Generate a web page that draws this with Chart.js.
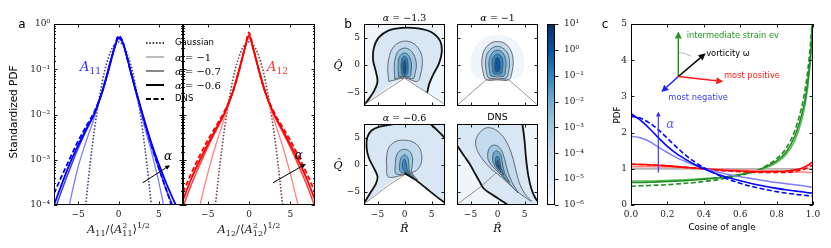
<!DOCTYPE html>
<html><head><meta charset="utf-8">
<script src="https://cdn.jsdelivr.net/npm/chart.js@4.4.0/dist/chart.umd.min.js"></script>
<style>
html,body{margin:0;padding:0;background:#fff;}
#wrap{position:relative;width:831px;height:248px;overflow:hidden;background:#fff;}
canvas{position:absolute;left:0;top:0;}
</style></head><body><div id="wrap">
<canvas id="cA1" width="831" height="248"></canvas>
<canvas id="cA2" width="831" height="248"></canvas>
<canvas id="cB1" width="831" height="248"></canvas>
<canvas id="cB2" width="831" height="248"></canvas>
<canvas id="cB3" width="831" height="248"></canvas>
<canvas id="cB4" width="831" height="248"></canvas>
<canvas id="cCB" width="831" height="248"></canvas>
<canvas id="cC" width="831" height="248"></canvas>
</div>
<script>
// ================= DATA =================
// Panel a: standardized PDFs (x in units of rms)
const aX = [-8,-7,-6,-5,-4,-3,-2,-1.5,-1,-0.5,0,0.5,1,1.5,2,3,4,5,6,7,8];
const aTicksX = [-5, 0, 5];
const aGauss   = [null,null,null,1.5e-6,1.3e-4,4.4e-3,5.4e-2,0.13,0.24,0.35,0.40,0.35,0.24,0.13,5.4e-2,4.4e-3,1.3e-4,1.5e-6,null,null,null];
const a11Light = [2e-6,1.5e-5,1.2e-4,7e-4,2.6e-3,8.5e-3,3.5e-2,7.5e-2,0.16,0.31,0.46,0.39,0.21,9.5e-2,4.0e-2,7.5e-3,1.7e-3,3.2e-4,4e-5,3e-6,null];
const a11Mid   = [7e-5,2.2e-4,6.5e-4,1.8e-3,4.4e-3,1.02e-2,3.3e-2,6.7e-2,0.145,0.30,0.49,0.40,0.20,9.0e-2,4.0e-2,9.5e-3,2.3e-3,6.5e-4,2.0e-4,7.5e-5,3e-5];
const a11Dark  = [1.0e-4,3.0e-4,8.5e-4,2.1e-3,4.8e-3,1.05e-2,3.2e-2,6.5e-2,0.14,0.29,0.50,0.40,0.20,9.0e-2,4.2e-2,1.0e-2,2.6e-3,8.0e-4,2.8e-4,1.1e-4,5e-5];
const a11DNS   = [1.8e-4,4.5e-4,1.1e-3,2.6e-3,5.5e-3,1.15e-2,3.3e-2,6.5e-2,0.14,0.30,0.55,0.42,0.20,9.0e-2,4.2e-2,9.5e-3,2.3e-3,6.5e-4,2.0e-4,6e-5,2e-5];
const a12Light = [3e-6,1.5e-5,9e-5,5e-4,2.2e-3,8e-3,3.2e-2,6.5e-2,0.135,0.29,0.50,0.29,0.135,6.5e-2,3.2e-2,8e-3,2.2e-3,5e-4,9e-5,1.5e-5,3e-6];
const a12Mid   = [9e-5,2.8e-4,7.5e-4,1.9e-3,4.4e-3,1.0e-2,3.0e-2,6.0e-2,0.13,0.29,0.55,0.29,0.13,6.0e-2,3.0e-2,1.0e-2,4.4e-3,1.9e-3,7.5e-4,2.8e-4,9e-5];
const a12Dark  = [1.3e-4,3.8e-4,9.5e-4,2.2e-3,4.8e-3,1.05e-2,3.0e-2,6.0e-2,0.13,0.29,0.57,0.29,0.13,6.0e-2,3.0e-2,1.05e-2,4.8e-3,2.2e-3,9.5e-4,3.8e-4,1.3e-4];
const a12DNS   = [1.9e-4,5e-4,1.2e-3,2.7e-3,5.5e-3,1.15e-2,3.0e-2,5.8e-2,0.13,0.30,0.65,0.30,0.13,5.8e-2,3.0e-2,1.15e-2,5.5e-3,2.7e-3,1.2e-3,5e-4,1.9e-4];
const aLegend = ['Gaussian', '\u03B1 = \u22121', '\u03B1 = \u22120.7', '\u03B1 = \u22120.6', 'DNS'];
const a1Arrow = [[3.0, 3.1e-4], [6.4, 7.6e-4]];
const a2Arrow = [[2.9, 3.1e-4], [6.9, 8.1e-4]];

// Panel b: joint PDF contours in (R^, Q^) plane
const bTicks = [-5, 0, 5];
const b1V  = [[-7.5,-7.3],[0,-2.4],[7.5,-7.2]];
const b1Outer = [[-7.5,-7.3],[-6.6,-6.2],[-5.6,-4.7],[-5.0,-3.0],[-5.3,-1.2],[-5.8,0.8],[-5.7,3.0],[-4.8,5.0],[-3.0,6.3],[-0.5,6.8],[2.5,6.7],[5.0,6.0],[6.6,4.4],[6.9,2.4],[6.4,0.3],[5.4,-1.6],[4.6,-3.4],[4.2,-5.1]];
const b1L1 = [[-2.9,-3.0],[-3.1,-1.0],[-2.9,1.2],[-2.2,3.1],[-0.8,4.2],[0.8,4.3],[2.2,3.5],[3.1,2.0],[3.3,0.2],[3.0,-1.6],[2.4,-3.0],[0,-2.4]];
const b1L2 = [[-1.8,-2.5],[-1.9,-0.5],[-1.7,1.3],[-1.1,2.6],[0,3.1],[1.1,2.7],[1.9,1.5],[2.2,0],[2.0,-1.4],[1.6,-2.5],[0,-2.2]];
const b1L3 = [[-1.1,-2.1],[-1.2,-0.3],[-1.0,1.3],[-0.4,2.1],[0.4,2.1],[1.0,1.3],[1.3,0],[1.2,-1.3],[1.0,-2.1],[0,-2.1]];
const b1L4 = [[-0.55,-1.7],[-0.65,0],[-0.45,1.2],[0,1.6],[0.45,1.2],[0.65,0],[0.55,-1.6],[0,-2.0]];
const b1L5 = [[-0.25,-1.3],[-0.28,0.2],[0,0.9],[0.28,0.2],[0.25,-1.3],[0,-1.8]];

const b2V  = [[-7.5,-7.4],[-2.1,-2.7],[2.1,-2.7],[7.5,-7.4]];
const b2Halo = [[-2.1,-2.7],[-4.3,-2.0],[-5.0,0.5],[-4.3,3.2],[-2.4,5.0],[0,5.6],[2.4,5.0],[4.3,3.2],[5.0,0.5],[4.3,-2.0],[2.1,-2.7]];
const b2L1 = [[0,-2.7],[-2.1,-2.7],[-2.7,-1.2],[-2.9,0.8],[-2.5,2.6],[-1.4,3.9],[0,4.3],[1.4,3.9],[2.5,2.6],[2.9,0.8],[2.7,-1.2],[2.1,-2.7]];
const b2L2 = [[0,-2.4],[-1.6,-2.4],[-2.1,-1.0],[-2.2,0.6],[-1.9,2.1],[-1.0,3.1],[0,3.4],[1.0,3.1],[1.9,2.1],[2.2,0.6],[2.1,-1.0],[1.6,-2.4]];
const b2L3 = [[0,-2.0],[-1.2,-2.0],[-1.5,-0.8],[-1.6,0.5],[-1.3,1.7],[-0.7,2.5],[0,2.7],[0.7,2.5],[1.3,1.7],[1.6,0.5],[1.5,-0.8],[1.2,-2.0]];
const b2L4 = [[0,-1.6],[-0.7,-1.6],[-0.95,-0.5],[-1.0,0.5],[-0.8,1.4],[0,2.0],[0.8,1.4],[1.0,0.5],[0.95,-0.5],[0.7,-1.6]];
const b2L5 = [[0,-1.2],[-0.35,-1.2],[-0.5,0],[-0.35,1.0],[0,1.4],[0.35,1.0],[0.5,0],[0.35,-1.2]];

const b3Left = [[-7.5,-7.2],[-6.3,-5.2],[-5.3,-3.6],[-5.0,-2.2],[-5.7,-0.6],[-6.6,1.2],[-7.0,3.0],[-6.9,5.0],[-6.1,6.3],[-4.6,7.0],[-2.5,7.4],[-1.0,7.8]];
const b3RightTop = [[4.5,7.8],[6.0,6.4],[7.0,5.4],[7.8,4.6]];
const b3VR = [[0,-1.6],[2.0,-2.8],[4.0,-4.4],[6.0,-6.0],[7.6,-7.2]];
const b3VL = [[-7.5,-7.3],[-3.0,-3.9],[0,-1.9]];
const b3L1 = [[0,-1.9],[-3.0,-2.3],[-3.3,-0.3],[-3.3,1.6],[-2.8,3.3],[-1.5,4.3],[0,4.5],[1.5,4.2],[2.7,3.2],[3.2,1.6],[3.0,0],[2.2,-1.1],[1.0,-1.6]];
const b3L2 = [[0,-1.8],[-1.6,-1.7],[-1.7,0],[-1.5,1.6],[-0.8,2.6],[0.2,2.8],[1.1,2.3],[1.5,1.0],[1.4,-0.5],[1.3,-1.4],[2.4,-2.9],[0.9,-2.1]];
const b3L3 = [[0.3,-1.6],[-0.8,-1.3],[-0.9,0],[-0.6,1.3],[0,1.8],[0.6,1.3],[0.8,0],[0.9,-1.2],[1.7,-2.4]];
const b3L4 = [[0,-1.3],[-0.35,-0.9],[-0.4,0.2],[0,1.0],[0.35,0.2],[0.5,-1.0],[1.1,-1.9]];

const b4Left = [[-7.6,3.7],[-6.2,1.6],[-5.2,0.2],[-4.2,-1.6],[-3.3,-3.2],[-2.6,-4.4],[-1.6,-5.2],[0,-6.2],[1.2,-7.0],[2.1,-7.6]];
const b4Right = [[4.6,7.6],[5.0,4.5],[5.3,1.0],[5.7,-2.0],[6.3,-4.6],[7.0,-6.2],[7.6,-7.0]];
const b4Thin = [[-7.5,-7.4],[-3.2,-4.2],[-0.3,-1.6]];
const b4L1 = [[-1.2,-0.8],[-2.8,1.0],[-3.9,3.0],[-4.0,4.6],[-3.2,6.0],[-2.0,6.8],[-0.5,6.5],[1.0,5.2],[2.1,3.3],[2.9,1.0],[3.5,-1.5],[4.2,-3.8],[5.2,-5.6],[6.3,-6.8],[5.0,-6.0],[3.4,-4.8],[1.8,-3.3],[0.3,-2.0]];
const b4L2 = [[-1.0,-0.3],[-1.7,0.8],[-1.8,2.0],[-1.4,3.2],[-0.6,3.6],[0.3,3.2],[1.0,2.0],[1.5,0.3],[2.0,-1.6],[2.8,-3.5],[3.8,-5.2],[2.6,-4.0],[1.3,-2.6],[0.2,-1.5]];
const b4L3 = [[-0.5,-0.3],[-0.9,0.8],[-0.7,2.2],[0,2.5],[0.6,1.8],[0.9,0.3],[1.3,-1.5],[2.2,-3.3],[1.2,-2.3],[0.3,-1.3]];
const b4L4 = [[-0.1,-0.5],[-0.4,0.3],[-0.3,1.3],[0.1,1.5],[0.4,0.8],[0.6,-0.5],[1.2,-2.0],[0.5,-1.2]];
const b4L5 = [[0.1,-0.6],[-0.15,0],[0,0.8],[0.2,0.2],[0.6,-1.0]];
const bTitles = ['\u03B1 = \u22121.3', '\u03B1 = \u22121', '\u03B1 = \u22120.6', 'DNS'];

// Colorbar
const cbRange = [1e-6, 10];

// Panel c: PDFs of alignment cosines
const cX = [0,0.05,0.1,0.15,0.2,0.25,0.3,0.35,0.4,0.45,0.5,0.6,0.7,0.8,0.85,0.9,0.93,0.95,0.97,0.99,1.0];
const cTicksX = [0,0.2,0.4,0.6,0.8,1.0];
const cTicksY = [0,1,2,3,4,5];
const cBlueLight = [1.9,1.86,1.76,1.6,1.45,1.31,1.2,1.1,1.02,0.95,0.88,0.78,0.7,0.62,0.59,0.56,0.54,0.53,0.51,0.5,0.49];
const cBlueDark  = [2.52,2.35,2.12,1.86,1.62,1.42,1.26,1.12,1.0,0.9,0.81,0.67,0.55,0.46,0.42,0.39,0.37,0.36,0.34,0.33,0.32];
const cBlueDNS   = [2.45,2.4,2.27,2.08,1.84,1.6,1.38,1.19,1.03,0.9,0.78,0.6,0.47,0.37,0.33,0.3,0.28,0.27,0.26,0.25,0.24];
const cRedLight  = [1.06,1.06,1.06,1.05,1.05,1.04,1.03,1.02,1.01,1.0,0.99,0.97,0.95,0.93,0.92,0.91,0.91,0.91,0.9,0.9,0.9];
const cRedDark   = [1.12,1.12,1.11,1.1,1.08,1.06,1.04,1.02,1.0,0.98,0.96,0.94,0.92,0.93,0.94,0.97,1.0,1.04,1.09,1.16,1.2];
const cRedDNS    = [1.13,1.12,1.11,1.1,1.08,1.06,1.04,1.02,1.0,0.97,0.95,0.92,0.9,0.9,0.9,0.93,0.96,0.99,1.03,1.08,1.1];
const cGreenLight= [0.66,0.66,0.66,0.67,0.68,0.69,0.7,0.71,0.73,0.75,0.77,0.84,0.95,1.17,1.38,1.78,2.2,2.6,3.2,4.2,5.1];
const cGreenDark = [0.62,0.62,0.63,0.64,0.65,0.66,0.67,0.69,0.71,0.73,0.76,0.84,0.97,1.22,1.45,1.9,2.35,2.75,3.35,4.4,5.3];
const cGreenDNS  = [0.52,0.53,0.54,0.55,0.56,0.58,0.6,0.62,0.65,0.68,0.72,0.82,0.97,1.28,1.55,2.05,2.55,3.0,3.65,4.7,5.5];
const cUniformX = [0, 1];
const cUniform  = [1, 1];
const cDiagram = { origin:[0.26,3.55], green:[0.26,4.79], black:[0.41,4.19], red:[0.507,3.41], blue:[0.167,3.12] };
const cDiagramText = [
  ['intermediate strain ev', 0.306, 4.67, '#1e961e'],
  ['vorticity \u03C9', 0.413, 4.17, '#000000'],
  ['most positive', 0.511, 3.57, '#ff1a1a'],
  ['most negative', 0.205, 2.97, '#3a3aff']
];
const cAlphaArrow = [[0.15, 0.9], [0.15, 2.58]];

// ================= RENDERING =================
const W = 831, H = 248;
const SERIF = "'DejaVu Serif', 'Liberation Serif', serif";
const SANS = "'DejaVu Sans', 'Liberation Sans', sans-serif";
const TICKFONT = {family: SERIF, size: 9};
const TICKCOL = '#222';
const minus = v => String(v).replace('-', '\u2212');
const SUP = {'-':'\u207B','0':'\u2070','1':'\u00B9','2':'\u00B2','3':'\u00B3','4':'\u2074','5':'\u2075','6':'\u2076','7':'\u2077','8':'\u2078','9':'\u2079'};
function logLabel(v){ const l = Math.log10(v); const r = Math.round(l); if (Math.abs(l-r) > 1e-6) return ''; return '10' + String(r).split('').map(c=>SUP[c]).join(''); }
const isDecade = v => { const l = Math.log10(v); return Math.abs(l - Math.round(l)) < 1e-6; };

function rich(ctx, x, y, parts, size, color, align, family) {
  family = family || SERIF;
  let total = 0; const ms = [];
  for (const p of parts) {
    const fs = size * (p.s || 1);
    ctx.font = (p.i ? 'italic ' : '') + fs + 'px ' + (p.f || family);
    const w = ctx.measureText(p.t).width;
    ms.push({p, fs, x: total});
    if (!p.k) total += w;
  }
  const x0 = align === 'left' ? x : align === 'right' ? x - total : x - total / 2;
  ctx.fillStyle = color; ctx.textBaseline = 'alphabetic'; ctx.textAlign = 'left';
  for (const m of ms) {
    ctx.font = (m.p.i ? 'italic ' : '') + m.fs + 'px ' + (m.p.f || family);
    ctx.fillText(m.p.t, x0 + m.x, y + (m.p.dy || 0) * size);
  }
}
function text(ctx, t, x, y, font, color, align, base) {
  ctx.font = font; ctx.fillStyle = color; ctx.textAlign = align || 'left'; ctx.textBaseline = base || 'middle';
  ctx.fillText(t, x, y);
}
function arrow(ctx, x0, y0, x1, y1, color, lw, hl, hw) {
  const ang = Math.atan2(y1 - y0, x1 - x0);
  const bx = x1 - hl * Math.cos(ang), by = y1 - hl * Math.sin(ang);
  ctx.strokeStyle = color; ctx.fillStyle = color; ctx.lineWidth = lw;
  ctx.beginPath(); ctx.moveTo(x0, y0); ctx.lineTo(bx, by); ctx.stroke();
  ctx.beginPath(); ctx.moveTo(x1, y1);
  ctx.lineTo(bx + hw * Math.sin(ang), by - hw * Math.cos(ang));
  ctx.lineTo(bx - hw * Math.sin(ang), by + hw * Math.cos(ang));
  ctx.closePath(); ctx.fill();
}

function framePlugin(o) {
  return { id: 'frame', afterDatasetsDraw(chart) {
    const ctx = chart.ctx, a = chart.chartArea;
    ctx.save();
    ctx.strokeStyle = '#000'; ctx.lineWidth = 0.9;
    ctx.beginPath();
    const xs = chart.scales.x, ys = chart.scales.y;
    if (o.xTicks !== false) {
      for (const t of xs.ticks) {
        const p = Math.round(xs.getPixelForValue(t.value)) + 0.5, L = 3.5;
        ctx.moveTo(p, a.bottom); ctx.lineTo(p, a.bottom - L);
        ctx.moveTo(p, a.top); ctx.lineTo(p, a.top + L);
      }
    }
    for (const t of ys.ticks) {
      const maj = o.logY ? isDecade(t.value) : true;
      const L = maj ? 3.5 : 2;
      const p = Math.round(ys.getPixelForValue(t.value)) + 0.5;
      if (o.outRight) {
        if (!maj) continue;
        ctx.moveTo(a.right, p); ctx.lineTo(a.right + 3.5, p);
      } else {
        ctx.moveTo(a.left, p); ctx.lineTo(a.left + L, p);
        ctx.moveTo(a.right, p); ctx.lineTo(a.right - L, p);
      }
    }
    ctx.stroke();
    ctx.lineWidth = 1;
    ctx.strokeRect(a.left + 0.5, a.top + 0.5, a.right - a.left - 1, a.bottom - a.top - 1);
    ctx.restore();
  }};
}

function scaleBase(o) {
  return Object.assign({ grid: {display: false, drawTicks: false, tickLength: 0}, border: {display: false} }, o);
}

function mkChart(id, area, type, datasets, xOpt, yOpt, draw, frameOpt) {
  const cv = document.getElementById(id);
  datasets.forEach((d, i) => { d.order = datasets.length - i; });
  const xs = scaleBase(Object.assign({type: 'linear', afterFit: s => { s.height = H - area.b; }}, xOpt));
  const ys = scaleBase(Object.assign({type: 'linear', afterFit: s => { s.width = area.l; }}, yOpt));
  const options = {
    responsive: false, animation: false, devicePixelRatio: 1,
    layout: {padding: {left: 0, top: area.t, right: W - area.r, bottom: 0}},
    plugins: {legend: {display: false}, tooltip: {enabled: false}},
    scales: {x: xs, y: ys}
  };
  return new Chart(cv, {
    type, data: {datasets}, options,
    plugins: [framePlugin(frameOpt || {}), {id: 'anno', afterDraw(chart) {
      if (draw) { const c = chart.ctx; c.save(); draw(c, chart); c.restore(); }
    }}]
  });
}

function curve(xs, ys, color, width, dash) {
  return {data: xs.map((x, i) => ({x, y: ys[i]})), showLine: true, borderColor: color, borderWidth: width,
    borderDash: dash || [], pointRadius: 0, fill: false, cubicInterpolationMode: 'monotone', spanGaps: false};
}
function poly(arr, fillColor, lineColor, lw, close, tension) {
  const d = arr.map(([x, y]) => ({x, y}));
  if (close !== false) d.push({x: arr[0][0], y: arr[0][1]});
  return {data: d, showLine: true, fill: fillColor ? 'shape' : false,
    backgroundColor: fillColor || 'rgba(0,0,0,0)', borderColor: lineColor || 'rgba(0,0,0,0)',
    borderWidth: lw || 1, pointRadius: 0, tension: tension === undefined ? 0.35 : tension};
}

// ---------- Panel a ----------
const AREA_A1 = {l: 54, t: 24, r: 183, b: 205};
const AREA_A2 = {l: 183, t: 24, r: 315, b: 205};
const BLUE = '#0000ff', BLUE_MID = '#3a3aff', BLUE_LT = '#7d7dff';
const RED = '#ff0000', RED_MID = '#ff3a3a', RED_LT = '#ff8080';

function aScales(showY) {
  return [
    {min: -8, max: 8, afterBuildTicks: s => { s.ticks = aTicksX.map(v => ({value: v})); },
     ticks: {font: TICKFONT, color: TICKCOL, padding: 4, autoSkip: false, maxRotation: 0, callback: v => minus(v)}},
    {type: 'logarithmic', min: 1e-4, max: 1,
     ticks: {display: showY, font: TICKFONT, color: TICKCOL, padding: 4, autoSkip: false, callback: logLabel}}
  ];
}

function aDatasets(g, light, mid, dark, dns, cols, gcol) {
  return [
    curve(aX, g, gcol, 1.6, [1.5, 1.8]),
    curve(aX, light, cols[2], 1.3),
    curve(aX, mid, cols[1], 1.5),
    curve(aX, dark, cols[0], 1.8),
    curve(aX, dns, cols[0], 1.8, [5, 2.5])
  ];
}

const [ax1, ay1] = aScales(true);
mkChart('cA1', AREA_A1, 'scatter', aDatasets(aGauss, a11Light, a11Mid, a11Dark, a11DNS, [BLUE, BLUE_MID, BLUE_LT], '#3d3d70'), ax1, ay1,
  (ctx, chart) => {
    const xs = chart.scales.x, ys = chart.scales.y;
    text(ctx, 'a', 22, 25, '12px ' + SANS, '#000', 'center');
    ctx.save(); ctx.translate(14, 112); ctx.rotate(-Math.PI / 2);
    text(ctx, 'Standardized PDF', 0, 0, '10.5px ' + SANS, '#000', 'center');
    ctx.restore();
    rich(ctx, 118.5, 233, [{t:'A',i:1},{t:'11',s:0.7,dy:0.25},{t:'/\u27E8'},{t:'A',i:1},{t:'2',s:0.7,dy:-0.4,k:1},{t:'11',s:0.7,dy:0.25},{t:'\u27E9'},{t:'1/2',s:0.7,dy:-0.4}], 11.5, '#222', 'center');
    rich(ctx, 80, 71, [{t:'A',i:1},{t:'11',s:0.7,dy:0.25}], 13, '#2a2aff', 'left');
    const ly = [43, 57, 71, 85, 99];
    const styles = [['#000', 1.6, [1.5, 1.8]], ['#bdbdbd', 2, []], ['#888', 2, []], ['#000', 2, []], ['#000', 2, [5, 2.5]]];
    for (let i = 0; i < 5; i++) {
      ctx.strokeStyle = styles[i][0]; ctx.lineWidth = styles[i][1]; ctx.setLineDash(styles[i][2]);
      ctx.beginPath(); ctx.moveTo(146, ly[i]); ctx.lineTo(164, ly[i]); ctx.stroke();
    }
    ctx.setLineDash([]);
    text(ctx, aLegend[0], 175, ly[0], '8.5px ' + SANS, '#000');
    for (let i = 1; i < 4; i++) {
      const t = aLegend[i];
      rich(ctx, 175, ly[i] + 3.5, [{t: t.slice(0, 1), i: 1}, {t: t.slice(1)}], 10, '#000', 'left');
    }
    text(ctx, aLegend[4], 175, ly[4], '8.5px ' + SANS, '#000');
    const p0 = [xs.getPixelForValue(a1Arrow[0][0]), ys.getPixelForValue(a1Arrow[0][1])];
    const p1 = [xs.getPixelForValue(a1Arrow[1][0]), ys.getPixelForValue(a1Arrow[1][1])];
    arrow(ctx, p0[0], p0[1], p1[0], p1[1], '#000', 1, 5, 2.3);
    rich(ctx, p1[0] - 2, p1[1] - 5, [{t:'\u03B1', i:1}], 12, '#000', 'center');
  }, {logY: true});

const [ax2, ay2] = aScales(false);
mkChart('cA2', AREA_A2, 'scatter', aDatasets(aGauss, a12Light, a12Mid, a12Dark, a12DNS, [RED, RED_MID, RED_LT], '#703d3d'), ax2, ay2,
  (ctx, chart) => {
    const xs = chart.scales.x, ys = chart.scales.y;
    rich(ctx, 249, 233, [{t:'A',i:1},{t:'12',s:0.7,dy:0.25},{t:'/\u27E8'},{t:'A',i:1},{t:'2',s:0.7,dy:-0.4,k:1},{t:'12',s:0.7,dy:0.25},{t:'\u27E9'},{t:'1/2',s:0.7,dy:-0.4}], 11.5, '#222', 'center');
    rich(ctx, 267, 71, [{t:'A',i:1},{t:'12',s:0.7,dy:0.25}], 13, '#ff3030', 'left');
    const p0 = [xs.getPixelForValue(a2Arrow[0][0]), ys.getPixelForValue(a2Arrow[0][1])];
    const p1 = [xs.getPixelForValue(a2Arrow[1][0]), ys.getPixelForValue(a2Arrow[1][1])];
    arrow(ctx, p0[0], p0[1], p1[0], p1[1], '#000', 1, 5, 2.3);
    rich(ctx, p1[0] - 7, p1[1] - 5, [{t:'\u03B1', i:1}], 12, '#000', 'center');
  }, {logY: true});

// ---------- Panel b ----------
const F = {pale: '#eef5fb', outer: '#d9e7f5', l1: '#c4daef', l2: '#9fc8e3', l3: '#6aabd6', l4: '#3585c1', l5: '#0d559c'};
const GREY = 'rgba(70,70,70,0.85)', THIN = 'rgba(110,110,110,0.9)';
function bScales(showX, showY) {
  return [
    {min: -7.5, max: 7.5, afterBuildTicks: s => { s.ticks = bTicks.map(v => ({value: v})); },
     ticks: {display: showX, font: TICKFONT, color: TICKCOL, padding: 4, autoSkip: false, maxRotation: 0, callback: v => minus(v)}},
    {min: -7.5, max: 7.5, afterBuildTicks: s => { s.ticks = bTicks.map(v => ({value: v})); },
     ticks: {display: showY, font: TICKFONT, color: TICKCOL, padding: 4, autoSkip: false, callback: v => minus(v)}}
  ];
}
const levels = (arrs) => {
  const cols = [F.l1, F.l2, F.l3, F.l4, F.l5];
  return arrs.map((a, i) => poly(a, cols[i], GREY, 0.9));
};
function bDraw(title, titleSans, showX, showY) {
  return (ctx, chart) => {
    const a = chart.chartArea, cx = (a.left + a.right) / 2, cy = (a.top + a.bottom) / 2;
    if (titleSans) text(ctx, title, cx, a.top - 6, '9.5px ' + SANS, '#000', 'center');
    else rich(ctx, cx, a.top - 3, [{t: title.slice(0, 1), i: 1}, {t: title.slice(1)}], 9.5, '#000', 'center');
    if (showY) rich(ctx, a.left - 26, cy + 4, [{t: 'Q\u0302', i: 1}], 11, '#000', 'center');
    if (showX) rich(ctx, cx, 232, [{t: 'R\u0302', i: 1}], 11, '#000', 'center');
  };
}
const AREA_B1 = {l: 364, t: 24, r: 445, b: 106};
const AREA_B2 = {l: 457, t: 24, r: 538, b: 106};
const AREA_B3 = {l: 364, t: 124, r: 445, b: 205};
const AREA_B4 = {l: 457, t: 124, r: 538, b: 205};
const boxAbove = (v) => [[-8, 8], [8, 8]].concat(v.slice().reverse().map(p => [p[0] >= 7.5 ? 8 : p[0] <= -7.5 ? -8 : p[0], p[1]]));

let [bx, by] = bScales(false, true);
mkChart('cB1', AREA_B1, 'scatter', [
  poly(boxAbove(b1V), F.pale, null, 1, true, 0),
  poly(b1Outer.concat([[0, -2.4]]), F.outer, null, 1, true, 0.3),
  ...levels([b1L1, b1L2, b1L3, b1L4, b1L5]),
  poly(b1Outer, null, '#111', 1.8, false, 0.3),
  poly(b1V, null, THIN, 0.8, false, 0)
], bx, by, (ctx, chart) => { bDraw(bTitles[0], false, false, true)(ctx, chart); text(ctx, 'b', 348, 25, '12px ' + SANS, '#000', 'center'); });

[bx, by] = bScales(false, false);
mkChart('cB2', AREA_B2, 'scatter', [
  poly(b2Halo, '#eff5fb', null, 1, true, 0.35),
  ...levels([b2L1, b2L2, b2L3, b2L4, b2L5]),
  poly(b2V, null, THIN, 0.8, false, 0)
], bx, by, bDraw(bTitles[1], false, false, false));

[bx, by] = bScales(true, true);
mkChart('cB3', AREA_B3, 'scatter', [
  poly(boxAbove([[-7.5, -7.3], [0, -1.6], [7.6, -7.2]]), F.pale, null, 1, true, 0),
  poly(b3Left.concat([[8, 8], [8, -7.3]], b3VR.slice().reverse()), F.outer, null, 1, true, 0.25),
  ...levels([b3L1, b3L2, b3L3, b3L4]),
  poly(b3Left, null, '#111', 1.8, false, 0.3),
  poly(b3RightTop, null, '#111', 1.8, false, 0.3),
  poly(b3VR, null, '#111', 1.8, false, 0.2),
  poly(b3VL, null, THIN, 0.8, false, 0)
], bx, by, bDraw(bTitles[2], false, true, true));

[bx, by] = bScales(true, false);
mkChart('cB4', AREA_B4, 'scatter', [
  poly([[-8, 8], [8, 8], [8, -8], [-8, -8]], F.pale, null, 1, true, 0),
  poly(b4Left.concat([[8, -8]], b4Right.slice().reverse(), [[-8, 8]]), F.outer, null, 1, true, 0.2),
  ...levels([b4L1, b4L2, b4L3, b4L4, b4L5]),
  poly(b4Left, null, '#111', 1.8, false, 0.3),
  poly(b4Right, null, '#111', 1.8, false, 0.3),
  poly(b4Thin, null, THIN, 0.8, false, 0)
], bx, by, bDraw(bTitles[3], true, true, false));

// ---------- Colorbar ----------
(function () {
  const area = {l: 547, t: 24, r: 555, b: 205};
  const cv = document.getElementById('cCB');
  new Chart(cv, {
    type: 'bar',
    data: {labels: ['cb'], datasets: [{data: [cbRange], borderWidth: 0, barPercentage: 1, categoryPercentage: 1,
      backgroundColor: (c) => {
        const ch = c.chart, a = ch.chartArea; if (!a) return '#6baed6';
        const g = ch.ctx.createLinearGradient(0, a.bottom, 0, a.top);
        const st = ['#f7fbff', '#deebf7', '#c6dbef', '#9ecae1', '#6baed6', '#3182bd', '#08519c', '#08306b'];
        st.forEach((s, i) => g.addColorStop(i / (st.length - 1), s));
        return g;
      }}]},
    options: {responsive: false, animation: false, devicePixelRatio: 1,
      layout: {padding: {left: area.l, top: area.t, right: 0, bottom: H - area.b}},
      plugins: {legend: {display: false}, tooltip: {enabled: false}},
      scales: {
        x: {display: false},
        y: scaleBase({type: 'logarithmic', position: 'right', min: cbRange[0], max: cbRange[1],
          afterFit: s => { s.width = W - area.r; },
          ticks: {font: TICKFONT, color: TICKCOL, padding: 9, autoSkip: false, callback: logLabel}})
      }},
    plugins: [framePlugin({xTicks: false, logY: true, outRight: true})]
  });
})();

// ---------- Panel c ----------
const AREA_C = {l: 631, t: 24, r: 813, b: 205};
const GREEN = '#1e8f1e', GREEN_LT = '#5cb85c';
mkChart('cC', AREA_C, 'scatter', [
  curve(cUniformX, cUniform, '#b5b5b5', 1.8),
  curve(cX, cGreenLight, GREEN_LT, 1.5),
  curve(cX, cGreenDark, GREEN, 1.6),
  curve(cX, cGreenDNS, GREEN, 1.6, [5, 2.5]),
  curve(cX, cRedLight, RED_LT, 1.5),
  curve(cX, cRedDark, RED, 1.6),
  curve(cX, cRedDNS, RED, 1.6, [5, 2.5]),
  curve(cX, cBlueLight, BLUE_LT, 1.5),
  curve(cX, cBlueDark, BLUE, 1.6),
  curve(cX, cBlueDNS, BLUE, 1.6, [5, 2.5])
], {min: 0, max: 1, afterBuildTicks: s => { s.ticks = cTicksX.map(v => ({value: v})); },
    ticks: {font: TICKFONT, color: TICKCOL, padding: 4, autoSkip: false, maxRotation: 0, callback: v => Number(v).toFixed(1)}},
   {min: 0, max: 5, afterBuildTicks: s => { s.ticks = cTicksY.map(v => ({value: v})); },
    ticks: {font: TICKFONT, color: TICKCOL, padding: 4, autoSkip: false, callback: v => String(v)}},
  (ctx, chart) => {
    const xs = chart.scales.x, ys = chart.scales.y;
    const P = (p) => [xs.getPixelForValue(p[0]), ys.getPixelForValue(p[1])];
    text(ctx, 'c', 605, 25, '12px ' + SANS, '#000', 'center');
    text(ctx, 'Cosine of angle', 722, 228, '8.7px ' + SANS, '#000', 'center');
    ctx.save(); ctx.translate(618, 115); ctx.rotate(-Math.PI / 2);
    text(ctx, 'PDF', 0, 0, '8.7px ' + SANS, '#000', 'center');
    ctx.restore();
    const o = P(cDiagram.origin);
    const bk = P(cDiagram.black);
    ctx.strokeStyle = '#999'; ctx.lineWidth = 0.7;
    ctx.beginPath(); ctx.arc(o[0], o[1], 24, -Math.PI / 2, Math.atan2(bk[1] - o[1], bk[0] - o[0]) - 0.3); ctx.stroke();
    const g = P(cDiagram.green), r = P(cDiagram.red), b = P(cDiagram.blue);
    arrow(ctx, o[0], o[1], g[0], g[1], '#1e961e', 1.5, 7, 3.5);
    arrow(ctx, o[0], o[1], bk[0], bk[1], '#000', 1.5, 7, 3.5);
    arrow(ctx, o[0], o[1], r[0], r[1], '#ff1a1a', 1.5, 7, 3.5);
    arrow(ctx, o[0], o[1], b[0], b[1], '#2020ff', 1.5, 7, 3.5);
    for (const [t, x, y, col] of cDiagramText) {
      const p = P([x, y]);
      text(ctx, t, p[0], p[1], '8.3px ' + SANS, col, 'left');
    }
    const a0 = P(cAlphaArrow[0]), a1 = P(cAlphaArrow[1]);
    arrow(ctx, a0[0], a0[1], a1[0], a1[1], '#2a2aff', 1.1, 5, 2.3);
    rich(ctx, a0[0] + 12, a1[1] + 16, [{t: '\u03B1', i: 1}], 12, '#6060ff', 'center');
  });
</script>
</body></html>
